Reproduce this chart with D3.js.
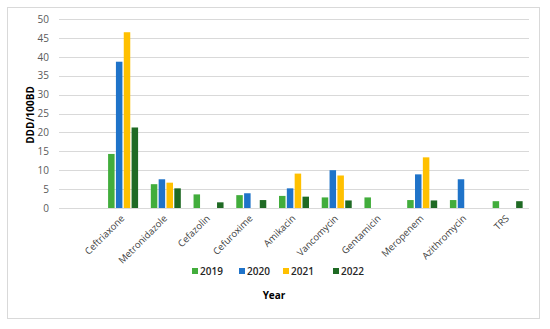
<!DOCTYPE html>
<html>
<head>
<meta charset="utf-8">
<script src="https://cdn.jsdelivr.net/npm/d3@7"></script>
<style>
body { margin: 0; background: #fff; }
svg { font-family: "Open Sans", "Liberation Sans", sans-serif; }
</style>
</head>
<body>
<div id="chart"></div>
<script>
const width = 550, height = 329;
const margin = {top: 19, right: 21, bottom: 121, left: 59};

// first category is blank in the original
const drugs = ["", "Ceftriaxone", "Metronidazole", "Cefazolin", "Cefuroxime", "Amikacin",
    "Vancomycin", "Gentamicin", "Meropenem", "Azithromycin", "TRS"];
const years = ["2019", "2020", "2021", "2022"];
const colors = ["#42ad3c", "#1f73c9", "#ffc000", "#1f6a24"];

const v2019 = [0, 14.3, 6.3, 3.6, 3.4, 3.2, 2.8, 2.8, 2.1, 2.1, 1.8];
const v2020 = [0, 38.7, 7.6, 0, 3.9, 5.2, 10.0, 0, 8.9, 7.6, 0];
const v2021 = [0, 46.5, 6.7, 0, 0, 9.1, 8.6, 0, 13.4, 0, 0];
const v2022 = [0, 21.3, 5.2, 1.5, 2.1, 3.0, 2.0, 0, 2.0, 0, 1.8];
const yTicks = [0, 5, 10, 15, 20, 25, 30, 35, 40, 45, 50];

const series = [v2019, v2020, v2021, v2022];

const svg = d3.select("#chart")
    .append("svg")
    .attr("width", width)
    .attr("height", height);

// outer frame
svg.append("rect")
    .attr("x", 7.5).attr("y", 7.5)
    .attr("width", 532).attr("height", 311)
    .attr("fill", "none")
    .attr("stroke", "#d9d9d9");

const plotW = 529 - margin.left;
const plotBottom = 208;

let xScale = d3.scaleBand()
    .domain(drugs)
    .range([margin.left, margin.left + plotW])
    .padding(0);

let inner = d3.scaleBand()
    .domain(years)
    .range([0, 30])
    .paddingInner(0.17);

let yScale = d3.scaleLinear()
    .domain([0, 50])
    .range([plotBottom, margin.top]);

// gridlines
svg.append("g")
    .selectAll("line")
    .data(yTicks)
    .join("line")
    .attr("x1", margin.left)
    .attr("x2", margin.left + plotW)
    .attr("y1", d => Math.round(yScale(d)) + 0.5)
    .attr("y2", d => Math.round(yScale(d)) + 0.5)
    .attr("stroke", "#d9d9d9");

// y axis labels
svg.append("g")
    .attr("transform", `translate(${margin.left - 6},0)`)
    .call(d3.axisLeft(yScale).tickValues(yTicks).tickSize(0).tickPadding(4))
    .call(g => g.select(".domain").remove())
    .call(g => g.selectAll("text")
        .attr("fill", "#595959")
        .style("font-size", "10px")
        .style("font-family", "Open Sans, sans-serif"));

// bars
const groups = svg.append("g")
    .selectAll("g")
    .data(drugs.map((d, i) => ({drug: d, i: i})))
    .join("g")
    .attr("transform", d => `translate(${xScale(d.drug) + xScale.bandwidth() / 2 - 15},0)`);

groups.selectAll("rect")
    .data(d => years.map((y, k) => ({year: y, k: k, value: series[k][d.i]})).filter(e => e.value > 0))
    .join("rect")
    .attr("x", e => inner(e.year))
    .attr("y", e => yScale(e.value))
    .attr("width", inner.bandwidth())
    .attr("height", e => plotBottom - yScale(e.value))
    .attr("fill", e => colors[e.k]);

// x axis line
svg.append("line")
    .attr("x1", margin.left).attr("x2", margin.left + plotW)
    .attr("y1", plotBottom + 0.5).attr("y2", plotBottom + 0.5)
    .attr("stroke", "#d9d9d9");

// category labels
svg.append("g")
    .selectAll("text")
    .data(drugs.filter(d => d !== ""))
    .join("text")
    .attr("transform", d => `translate(${xScale(d) + xScale.bandwidth() / 2 + 2},${plotBottom + 11}) rotate(-45)`)
    .attr("text-anchor", "end")
    .attr("fill", "#404040")
    .style("font-size", "9.5px")
    .text(d => d);

// legend
const legendX = [192, 239, 283, 333];
const legend = svg.append("g")
    .selectAll("g")
    .data(years)
    .join("g")
    .attr("transform", (d, i) => `translate(${legendX[i]},271)`);
legend.append("rect")
    .attr("x", 0).attr("y", -3)
    .attr("width", 6).attr("height", 6)
    .attr("fill", (d, i) => colors[i]);
legend.append("text")
    .attr("x", 8).attr("y", 3.5)
    .attr("fill", "#262626")
    .style("font-size", "10px")
    .style("font-weight", "600")
    .text(d => d);

// axis titles
svg.append("text")
    .attr("x", 274).attr("y", 299)
    .attr("text-anchor", "middle")
    .style("font-size", "10px")
    .style("font-weight", "bold")
    .text("Year");

svg.append("text")
    .attr("transform", `translate(34,115) rotate(-90)`)
    .attr("text-anchor", "middle")
    .style("font-size", "10px")
    .style("font-weight", "bold")
    .text("DDD/100BD");
</script>
</body>
</html>
